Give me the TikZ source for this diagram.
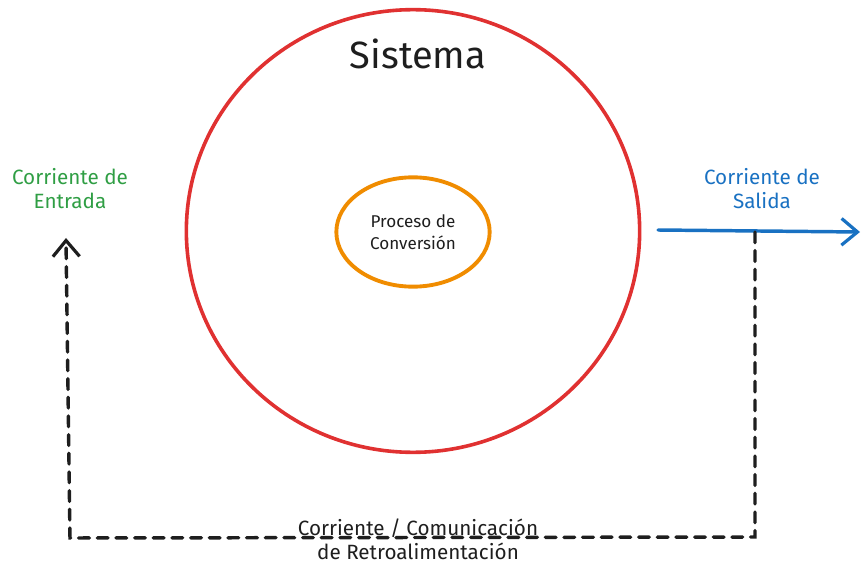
\documentclass[tikz,border=0pt]{standalone}
\usepackage{fontspec}
\setmainfont{Fira Sans}
\usetikzlibrary{arrows.meta,shapes.geometric}
\definecolor{sisred}{HTML}{E03131}
\definecolor{procorange}{HTML}{F08C00}
\definecolor{entgreen}{HTML}{2F9E44}
\definecolor{salblue}{HTML}{1971C2}
\definecolor{ink}{HTML}{1E1E1E}
\tikzset{
  label15/.style={align=center, font=\fontsize{15.5}{18}\selectfont},
  flow/.style={line width=2.6pt, line cap=round, -{Straight Barb[length=12pt,width=20pt,line width=2.4pt]}},
  fback/.style={flow, draw=ink, dash pattern=on 8pt off 6pt}
}
\begin{document}
\begin{tikzpicture}[x=0.75pt,y=-0.75pt]
	\useasboundingbox (0,0) rectangle (868,574);
	% sistema y proceso
	\node (Si) at (413,231) [ellipse, draw=sisred, line width=2.7pt, inner sep=0pt, minimum width=340pt, minimum height=332pt] {};
	\node (Ti) at (418,54) [text=ink, font=\fontsize{28.5}{32}\selectfont] {Sistema};
	\node (Pc) at (413,232) [ellipse, draw=procorange, line width=2.9pt, inner sep=0pt, minimum width=115pt, minimum height=82pt, align=center, text=ink, font=\fontsize{12.8}{16.5}\selectfont] {Proceso de\\Conversión};
	% corrientes
	\node (En) at (70,189) [label15, text=entgreen] {Corriente de\\Entrada};
	\node (Sa) at (762,189) [label15, text=salblue] {Corriente de\\Salida};
	\coordinate (O1) at (658,230);
	\coordinate (O2) at (860,232);
	\draw[flow, draw=salblue] (O1) -- (O2);
	% retroalimentacion
	\coordinate (F0) at (755,232);
	\coordinate (F1) at (755,537);
	\coordinate (F2) at (70,538);
	\coordinate (F3) at (66,238);
	\draw[fback] (F0) -- (F1) -- (F2) -- (F3);
	\node (Fb) at (418,539) [label15, text=ink] {Corriente / Comunicación\\de Retroalimentación};
\end{tikzpicture}
\end{document}
